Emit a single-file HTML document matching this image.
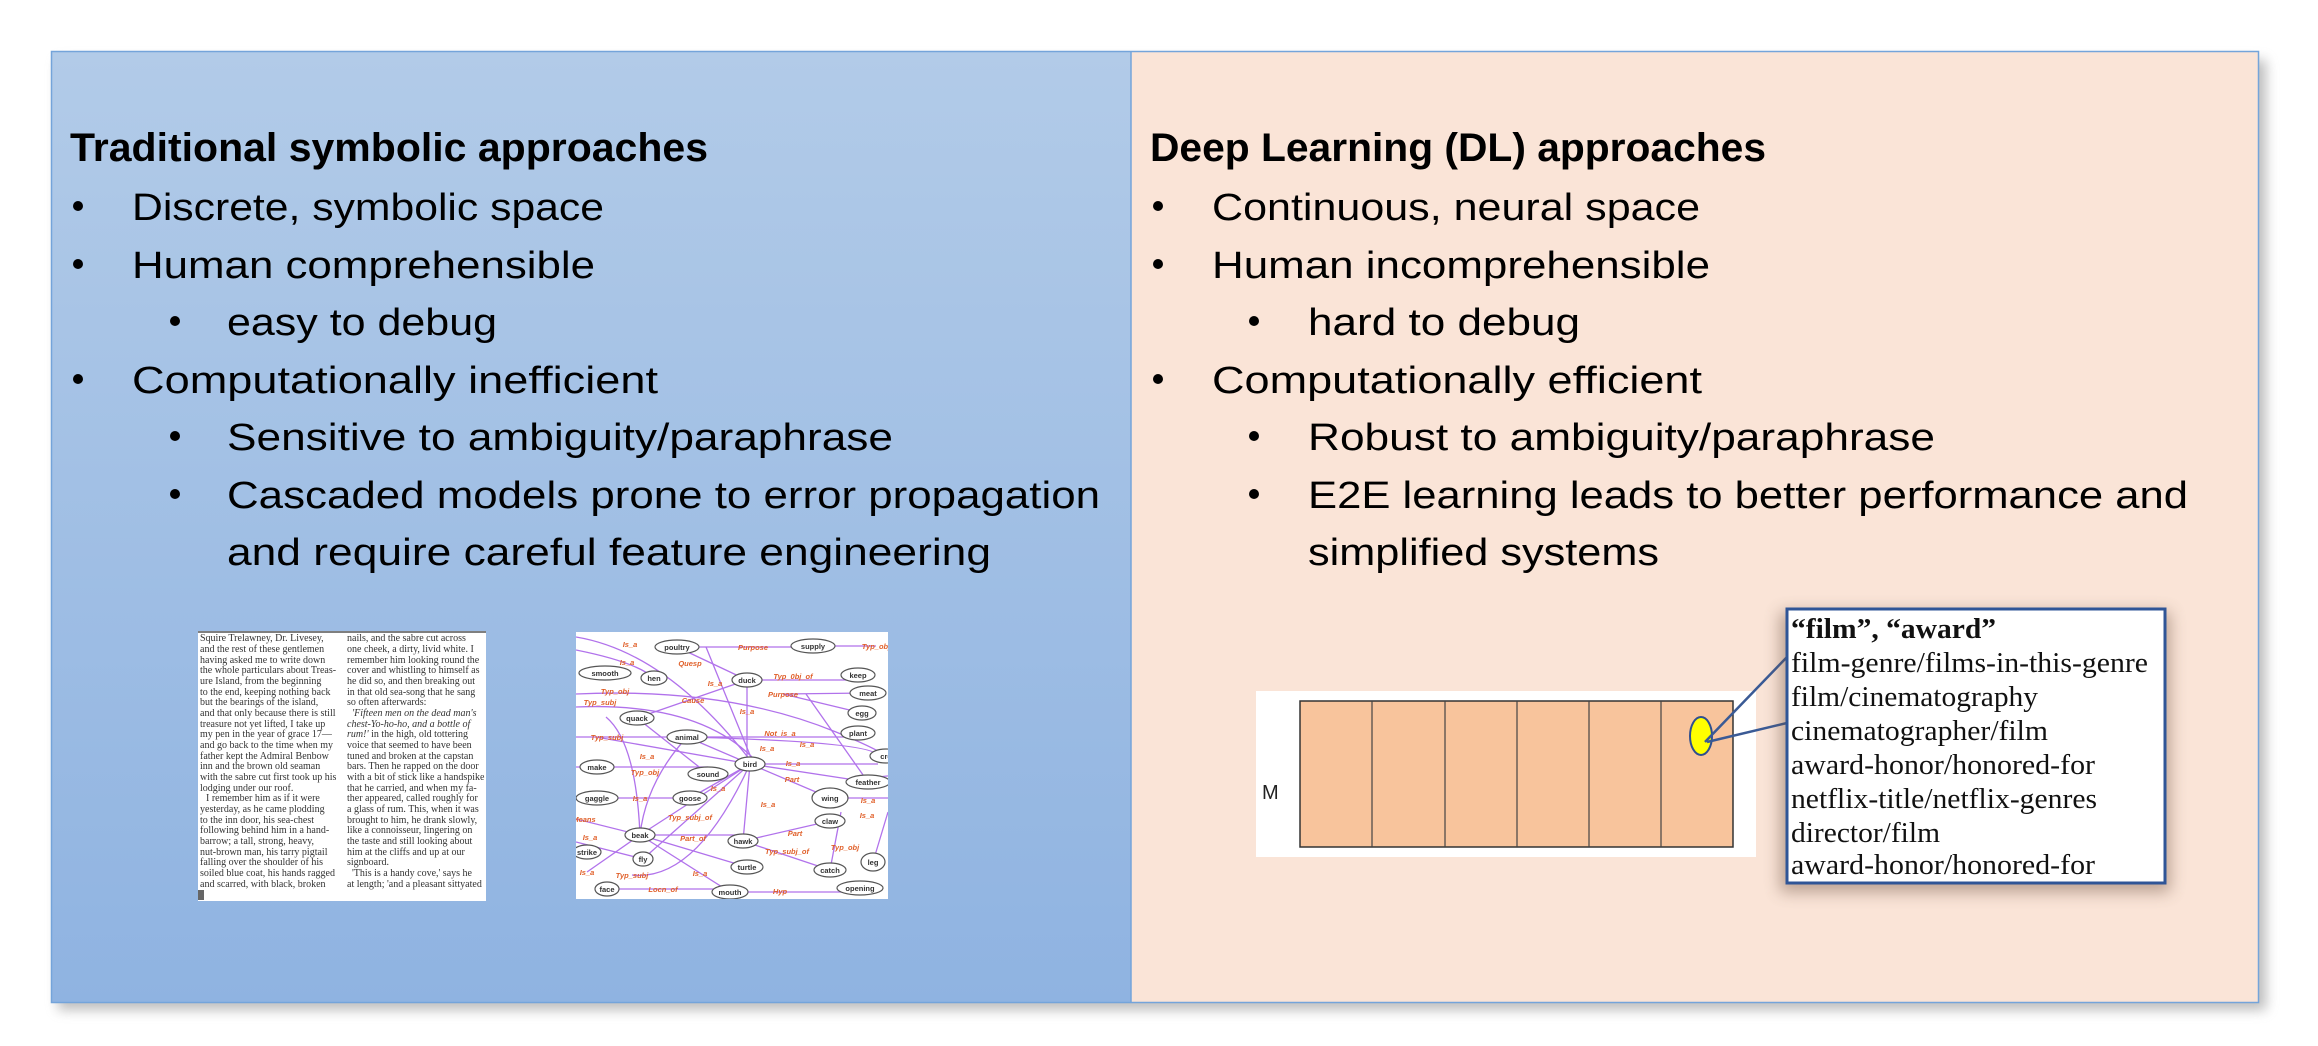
<!DOCTYPE html>
<html><head><meta charset="utf-8"><style>html,body{margin:0;padding:0;background:#fff;}svg{display:block}</style></head>
<body>
<svg width="2318" height="1046" viewBox="0 0 2318 1046" xmlns="http://www.w3.org/2000/svg">
<defs>
<linearGradient id="lg" x1="0" y1="0" x2="0" y2="1"><stop offset="0" stop-color="#b2cbe8"/><stop offset="1" stop-color="#8fb3e1"/></linearGradient>
<filter id="sh" x="-5%" y="-5%" width="110%" height="115%"><feGaussianBlur stdDeviation="6"/></filter>
<filter id="sh2" x="-20%" y="-20%" width="140%" height="140%"><feGaussianBlur stdDeviation="8"/></filter>
<clipPath id="tc"><rect x="198" y="631" width="288" height="270"/></clipPath>
</defs>
<rect x="58" y="60" width="2208" height="950" fill="#888" opacity="0.55" filter="url(#sh)"/>
<rect x="51" y="51" width="1080" height="952" fill="url(#lg)"/>
<rect x="1131" y="51" width="1128" height="952" fill="#fae4d7"/>
<rect x="51.5" y="51.5" width="2207" height="951" fill="none" stroke="#74a4da" stroke-width="1.5"/>
<line x1="1131" y1="51" x2="1131" y2="1003" stroke="#74a4da" stroke-width="1.5"/>

<g font-family="Liberation Sans, sans-serif" fill="#000">
<text x="70" y="161" font-size="40" font-weight="bold" textLength="638" lengthAdjust="spacingAndGlyphs">Traditional symbolic approaches</text>
<text x="132" y="220" font-size="38" textLength="472" lengthAdjust="spacingAndGlyphs">Discrete, symbolic space</text>
<text x="132" y="278" font-size="38" textLength="463" lengthAdjust="spacingAndGlyphs">Human comprehensible</text>
<text x="227" y="335" font-size="38" textLength="270" lengthAdjust="spacingAndGlyphs">easy to debug</text>
<text x="132" y="393" font-size="38" textLength="526" lengthAdjust="spacingAndGlyphs">Computationally inefficient</text>
<text x="227" y="450" font-size="38" textLength="666" lengthAdjust="spacingAndGlyphs">Sensitive to ambiguity/paraphrase</text>
<text x="227" y="508" font-size="38" textLength="873" lengthAdjust="spacingAndGlyphs">Cascaded models prone to error propagation</text>
<text x="227" y="565" font-size="38" textLength="764" lengthAdjust="spacingAndGlyphs">and require careful feature engineering</text>

<text x="1150" y="161" font-size="40" font-weight="bold" textLength="616" lengthAdjust="spacingAndGlyphs">Deep Learning (DL) approaches</text>
<text x="1212" y="220" font-size="38" textLength="488" lengthAdjust="spacingAndGlyphs">Continuous, neural space</text>
<text x="1212" y="278" font-size="38" textLength="498" lengthAdjust="spacingAndGlyphs">Human incomprehensible</text>
<text x="1308" y="335" font-size="38" textLength="272" lengthAdjust="spacingAndGlyphs">hard to debug</text>
<text x="1212" y="393" font-size="38" textLength="490" lengthAdjust="spacingAndGlyphs">Computationally efficient</text>
<text x="1308" y="450" font-size="38" textLength="627" lengthAdjust="spacingAndGlyphs">Robust to ambiguity/paraphrase</text>
<text x="1308" y="508" font-size="38" textLength="880" lengthAdjust="spacingAndGlyphs">E2E learning leads to better performance and</text>
<text x="1308" y="565" font-size="38" textLength="351" lengthAdjust="spacingAndGlyphs">simplified systems</text>
</g>
<g fill="#000">
<circle cx="78" cy="206" r="5"/><circle cx="78" cy="264" r="5"/><circle cx="175" cy="321" r="5"/><circle cx="78" cy="379" r="5"/><circle cx="175" cy="436" r="5"/><circle cx="175" cy="494" r="5"/>
<circle cx="1158" cy="206" r="5"/><circle cx="1158" cy="264" r="5"/><circle cx="1254" cy="321" r="5"/><circle cx="1158" cy="379" r="5"/><circle cx="1254" cy="436" r="5"/><circle cx="1254" cy="494" r="5"/>
</g>

<!-- text image -->
<rect x="198" y="631" width="288" height="270" fill="#fff"/>
<line x1="198" y1="632" x2="486" y2="632" stroke="#555" stroke-width="1.5"/>
<rect x="198" y="890" width="6" height="10" fill="#666"/>
<g font-family="Liberation Serif, serif" font-size="10" fill="#333" clip-path="url(#tc)">
<text x="200" y="641">Squire Trelawney, Dr. Livesey,</text>
<text x="200" y="652">and the rest of these gentlemen</text>
<text x="200" y="663">having asked me to write down</text>
<text x="200" y="673">the whole particulars about Treas-</text>
<text x="200" y="684">ure Island, from the beginning</text>
<text x="200" y="695">to the end, keeping nothing back</text>
<text x="200" y="705">but the bearings of the island,</text>
<text x="200" y="716">and that only because there is still</text>
<text x="200" y="727">treasure not yet lifted, I take up</text>
<text x="200" y="737">my pen in the year of grace 17—</text>
<text x="200" y="748">and go back to the time when my</text>
<text x="200" y="759">father kept the Admiral Benbow</text>
<text x="200" y="769">inn and the brown old seaman</text>
<text x="200" y="780">with the sabre cut first took up his</text>
<text x="200" y="791">lodging under our roof.</text>
<text x="206" y="801">I remember him as if it were</text>
<text x="200" y="812">yesterday, as he came plodding</text>
<text x="200" y="823">to the inn door, his sea-chest</text>
<text x="200" y="833">following behind him in a hand-</text>
<text x="200" y="844">barrow; a tall, strong, heavy,</text>
<text x="200" y="855">nut-brown man, his tarry pigtail</text>
<text x="200" y="865">falling over the shoulder of his</text>
<text x="200" y="876">soiled blue coat, his hands ragged</text>
<text x="200" y="887">and scarred, with black, broken</text>
<text x="347" y="641">nails, and the sabre cut across</text>
<text x="347" y="652">one cheek, a dirty, livid white. I</text>
<text x="347" y="663">remember him looking round the</text>
<text x="347" y="673">cover and whistling to himself as</text>
<text x="347" y="684">he did so, and then breaking out</text>
<text x="347" y="695">in that old sea-song that he sang</text>
<text x="347" y="705">so often afterwards:</text>
<text x="352" y="716" font-style="italic">'Fifteen men on the dead man's</text>
<text x="347" y="727" font-style="italic">chest-Yo-ho-ho, and a bottle of</text>
<text x="347" y="737"><tspan font-style="italic">rum!'</tspan> in the high, old tottering</text>
<text x="347" y="748">voice that seemed to have been</text>
<text x="347" y="759">tuned and broken at the capstan</text>
<text x="347" y="769">bars. Then he rapped on the door</text>
<text x="347" y="780">with a bit of stick like a handspike</text>
<text x="347" y="791">that he carried, and when my fa-</text>
<text x="347" y="801">ther appeared, called roughly for</text>
<text x="347" y="812">a glass of rum. This, when it was</text>
<text x="347" y="823">brought to him, he drank slowly,</text>
<text x="347" y="833">like a connoisseur, lingering on</text>
<text x="347" y="844">the taste and still looking about</text>
<text x="347" y="855">him at the cliffs and up at our</text>
<text x="347" y="865">signboard.</text>
<text x="352" y="876">'This is a handy cove,' says he</text>
<text x="347" y="887">at length; 'and a pleasant sittyated</text>
</g>

<!-- graph image -->
<svg x="576" y="632" width="312" height="267" viewBox="0 0 312 267">
<rect width="312" height="267" fill="#fff"/>
<g stroke="#a45ae8" stroke-width="1.3" fill="none" opacity="0.85">
<path d="M0 5 Q90 20 174 128"/><path d="M0 18 Q60 30 78 46"/><path d="M101 15 H237"/><path d="M237 14 H300"/>
<path d="M101 15 L171 48"/><path d="M130 15 L176 128"/><path d="M171 48 H282"/><path d="M171 48 V128"/>
<path d="M0 62 Q150 55 260 100 T292 145"/><path d="M0 75 Q120 70 176 125"/><path d="M61 86 L171 48"/>
<path d="M0 105 H111"/><path d="M111 105 H282"/><path d="M111 105 L174 132"/><path d="M20 105 L174 132"/>
<path d="M111 105 Q300 110 302 124"/><path d="M174 132 H302"/><path d="M0 135 H21"/><path d="M21 135 H132"/>
<path d="M61 86 L132 142"/><path d="M174 132 L254 166"/><path d="M174 132 L292 150"/><path d="M21 166 H114"/>
<path d="M114 166 L174 132"/><path d="M254 166 H312"/><path d="M64 203 L174 132"/><path d="M111 105 Q70 150 64 203"/>
<path d="M30 85 Q60 110 64 203"/><path d="M0 187 L64 203"/><path d="M64 203 H167"/><path d="M167 209 L174 132"/>
<path d="M167 209 L254 189"/><path d="M167 209 L254 238"/><path d="M64 203 L171 235"/><path d="M0 210 L67 227"/>
<path d="M67 227 L174 132"/><path d="M11 240 L64 203"/><path d="M56 243 Q120 250 174 132"/><path d="M64 203 L154 260"/>
<path d="M31 257 H154"/><path d="M154 260 H284"/><path d="M297 230 L312 180"/><path d="M254 238 L265 180"/>
<path d="M207 62 L292 61"/><path d="M207 62 L286 81"/><path d="M230 62 L292 150"/>
</g>
<g stroke="#555" stroke-width="1.2" fill="#fff">
<ellipse cx="101" cy="15" rx="22" ry="7"/><ellipse cx="237" cy="14" rx="22" ry="7"/><ellipse cx="29" cy="41" rx="26" ry="7"/>
<ellipse cx="78" cy="46" rx="13" ry="7"/><ellipse cx="171" cy="48" rx="15" ry="7"/><ellipse cx="282" cy="43" rx="17" ry="7"/>
<ellipse cx="292" cy="61" rx="18" ry="7"/><ellipse cx="286" cy="81" rx="14" ry="7"/><ellipse cx="61" cy="86" rx="17" ry="7"/>
<ellipse cx="111" cy="105" rx="20" ry="7"/><ellipse cx="282" cy="101" rx="17" ry="7"/><ellipse cx="174" cy="132" rx="15" ry="7"/>
<ellipse cx="310" cy="124" rx="16" ry="7"/><ellipse cx="21" cy="135" rx="17" ry="7"/><ellipse cx="132" cy="142" rx="20" ry="7"/>
<ellipse cx="292" cy="150" rx="22" ry="7"/><ellipse cx="21" cy="166" rx="21" ry="7"/><ellipse cx="114" cy="166" rx="17" ry="7"/>
<ellipse cx="254" cy="166" rx="18" ry="10"/><ellipse cx="254" cy="189" rx="15" ry="7"/><ellipse cx="64" cy="203" rx="15" ry="7"/>
<ellipse cx="167" cy="209" rx="15" ry="7"/><ellipse cx="11" cy="220" rx="14" ry="7"/><ellipse cx="67" cy="227" rx="10" ry="7"/>
<ellipse cx="297" cy="230" rx="12" ry="9"/><ellipse cx="171" cy="235" rx="16" ry="7"/><ellipse cx="254" cy="238" rx="16" ry="7"/>
<ellipse cx="31" cy="257" rx="12" ry="7"/><ellipse cx="154" cy="260" rx="18" ry="7"/><ellipse cx="284" cy="256" rx="23" ry="7"/>
</g>
<g font-family="Liberation Sans, sans-serif" font-size="7.5" font-weight="bold" fill="#333" text-anchor="middle">
<text x="101" y="18">poultry</text><text x="237" y="17">supply</text><text x="29" y="44">smooth</text><text x="78" y="49">hen</text>
<text x="171" y="51">duck</text><text x="282" y="46">keep</text><text x="292" y="64">meat</text><text x="286" y="84">egg</text>
<text x="61" y="89">quack</text><text x="111" y="108">animal</text><text x="282" y="104">plant</text><text x="174" y="135">bird</text>
<text x="312" y="127">crea</text><text x="21" y="138">make</text><text x="132" y="145">sound</text><text x="292" y="153">feather</text>
<text x="21" y="169">gaggle</text><text x="114" y="169">goose</text><text x="254" y="169">wing</text><text x="254" y="192">claw</text>
<text x="64" y="206">beak</text><text x="167" y="212">hawk</text><text x="11" y="223">strike</text><text x="67" y="230">fly</text>
<text x="297" y="233">leg</text><text x="171" y="238">turtle</text><text x="254" y="241">catch</text><text x="31" y="260">face</text>
<text x="154" y="263">mouth</text><text x="284" y="259">opening</text>
</g>
<g font-family="Liberation Sans, sans-serif" font-size="7.5" font-weight="bold" font-style="italic" fill="#e0602a" text-anchor="middle">
<text x="54" y="15">Is_a</text><text x="51" y="33">Is_a</text><text x="114" y="34">Quesp</text><text x="177" y="18">Purpose</text>
<text x="300" y="17">Typ_obj</text><text x="217" y="47">Typ_0bj_of</text><text x="139" y="54">Is_a</text><text x="39" y="62">Typ_obj</text>
<text x="207" y="65">Purpose</text><text x="24" y="73">Typ_subj</text><text x="117" y="71">Cause</text><text x="171" y="82">Is_a</text>
<text x="31" y="108">Typ_subj</text><text x="204" y="104">Not_is_a</text><text x="191" y="119">Is_a</text><text x="231" y="115">Is_a</text>
<text x="71" y="127">Is_a</text><text x="217" y="134">Is_a</text><text x="69" y="143">Typ_obj</text><text x="216" y="150">Part</text>
<text x="142" y="159">Is_a</text><text x="64" y="169">Is_a</text><text x="292" y="171">Is_a</text><text x="114" y="188">Typ_subj_of</text>
<text x="192" y="175">Is_a</text><text x="291" y="186">Is_a</text><text x="8" y="190">Means</text><text x="117" y="209">Part_of</text>
<text x="219" y="204">Part</text><text x="14" y="208">Is_a</text><text x="269" y="218">Typ_obj</text><text x="211" y="222">Typ_subj_of</text>
<text x="11" y="243">Is_a</text><text x="56" y="246">Typ_subj</text><text x="124" y="244">Is_a</text><text x="87" y="260">Locn_of</text>
<text x="204" y="262">Hyp</text>
</g>
</svg>

<!-- matrix figure -->
<rect x="1256" y="691" width="500" height="166" fill="#fff"/>
<rect x="1300" y="701" width="433" height="146" fill="#f8c49c" stroke="#333" stroke-width="1.5"/>
<g stroke="#444" stroke-width="1.2">
<line x1="1372" y1="701" x2="1372" y2="847"/><line x1="1445" y1="701" x2="1445" y2="847"/><line x1="1517" y1="701" x2="1517" y2="847"/><line x1="1589" y1="701" x2="1589" y2="847"/><line x1="1661" y1="701" x2="1661" y2="847"/>
</g>
<text x="1262" y="799" font-family="Liberation Sans, sans-serif" font-size="20" fill="#222">M</text>
<ellipse cx="1701" cy="736" rx="11" ry="19" fill="#ffff00" stroke="#2f4f8f" stroke-width="2"/>
<line x1="1705" y1="742" x2="1787" y2="657" stroke="#3a5a95" stroke-width="2.5"/>
<line x1="1707" y1="742" x2="1787" y2="723" stroke="#3a5a95" stroke-width="2.5"/>

<!-- popup box -->
<rect x="1780" y="612" width="390" height="280" fill="#6a5040" opacity="0.45" filter="url(#sh2)"/>
<rect x="1787" y="609" width="378" height="274" fill="#fff" stroke="#2f5597" stroke-width="3"/>
<g font-family="Liberation Serif, serif" font-size="29" fill="#111">
<text x="1791" y="638" font-weight="bold" textLength="205" lengthAdjust="spacingAndGlyphs">“film”, “award”</text>
<text x="1791" y="672" textLength="357" lengthAdjust="spacingAndGlyphs">film-genre/films-in-this-genre</text>
<text x="1791" y="706" textLength="247" lengthAdjust="spacingAndGlyphs">film/cinematography</text>
<text x="1791" y="740" textLength="257" lengthAdjust="spacingAndGlyphs">cinematographer/film</text>
<text x="1791" y="774" textLength="304" lengthAdjust="spacingAndGlyphs">award-honor/honored-for</text>
<text x="1791" y="808" textLength="306" lengthAdjust="spacingAndGlyphs">netflix-title/netflix-genres</text>
<text x="1791" y="842" textLength="149" lengthAdjust="spacingAndGlyphs">director/film</text>
<text x="1791" y="874" textLength="304" lengthAdjust="spacingAndGlyphs">award-honor/honored-for</text>
</g>
</svg>
</body></html>
